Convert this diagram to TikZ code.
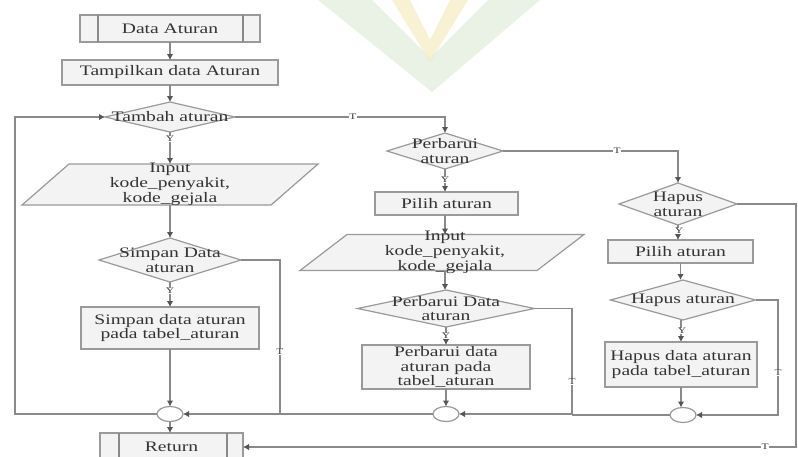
\documentclass[tikz,border=0pt]{standalone}
\usepackage{fontspec}
\setmainfont{Liberation Serif}[FakeStretch=1.35]
\usetikzlibrary{arrows.meta,shapes.geometric}
\definecolor{linec}{HTML}{8A8A8A}
\definecolor{tipc}{HTML}{555555}
\definecolor{boxc}{HTML}{9A9A9A}
\definecolor{boxf}{HTML}{F3F3F3}
\definecolor{textc}{HTML}{333333}
\definecolor{wmgreen}{HTML}{D8E9CF}
\definecolor{wmyellow}{HTML}{F4E8B8}
\newcommand{\txt}{\fontsize{14.5}{14.8}\selectfont}
\tikzset{
  line/.style={draw=linec, line width=1.3pt},
  arr/.style={line, -{Latex[length=6pt,width=6.5pt,color=tipc]}},
  box/.style={rectangle, draw=boxc, fill=boxf, line width=1.2pt, inner sep=0pt, outer sep=0pt,
    font=\txt, align=center, text=textc},
  dia/.style={diamond, draw=boxc, fill=boxf, line width=1.2pt, inner sep=0pt, outer sep=0pt},
  diatext/.style={font=\txt, align=center, text=textc, inner sep=0pt},
  frame/.style={rectangle, inner sep=0pt, outer sep=0pt, font=\txt, align=center, text=textc},
  para/.style={draw=boxc, fill=boxf, line width=1.2pt},
  joint/.style={ellipse, draw=boxc, fill=white, line width=1.2pt, minimum width=26pt, minimum height=15pt, inner sep=0pt, outer sep=0pt},
  lab/.style={font=\fontsize{8.5}{8.5}\selectfont, text=textc, fill=white, inner sep=0.6pt},
}
\begin{document}
\begin{tikzpicture}[x=1pt,y=-1pt]
\useasboundingbox (0,0) rectangle (798,456);
\fill[white] (0,0) rectangle (798,456);

% faint emblem behind the top of the chart
\fill[wmgreen, opacity=0.55] (318,0) -- (372,0) -- (430,58) -- (488,0) -- (540,0) -- (432,92) -- cycle;
\fill[wmyellow, opacity=0.6] (392,0) -- (410,0) -- (430,40) -- (450,0) -- (468,0) -- (430,62) -- cycle;

% ---------- column 1 : Tambah ----------
\node[box, minimum width=180pt, minimum height=27pt] (da) at (170,28.5) {Data Aturan};
\draw[line] ([xshift=18pt]da.north west) -- ([xshift=18pt]da.south west)
            ([xshift=-17pt]da.north east) -- ([xshift=-17pt]da.south east);
\node[box, minimum width=216pt, minimum height=25pt] (tampil) at (170,72.5) {Tampilkan data Aturan};
\node[dia, minimum width=130pt, minimum height=30pt] (tambah) at (170,117) {};
\node[diatext] at (tambah) {Tambah aturan};

\node[frame, minimum width=296pt, minimum height=41pt] (in1) at (170,184.5) {};
\draw[para] ([xshift=47pt]in1.north west) -- (in1.north east) -- ([xshift=-47pt]in1.south east) -- (in1.south west) -- cycle;
\node[frame] at (in1) {Input\\kode\_penyakit,\\kode\_gejala};

\node[dia, minimum width=142pt, minimum height=44pt] (simpan) at (170,260) {};
\node[diatext] at (simpan) {Simpan Data\\aturan};
\node[box, minimum width=178pt, minimum height=42pt] (sbox) at (170,328) {Simpan data aturan\\pada tabel\_aturan};
\node[joint] (c1) at (170,414) {};
\node[box, minimum width=143pt, minimum height=28pt] (ret) at (171.5,447) {Return};
\draw[line] ([xshift=19pt]ret.north west) -- ([xshift=19pt]ret.south west)
            ([xshift=-16pt]ret.north east) -- ([xshift=-16pt]ret.south east);

% ---------- column 2 : Perbarui ----------
\node[dia, minimum width=116pt, minimum height=36pt] (perb) at (445,151) {};
\node[diatext] at (perb) {Perbarui\\aturan};
\node[box, minimum width=143pt, minimum height=23pt] (pilih1) at (446.5,203.5) {Pilih aturan};
\node[frame, minimum width=284pt, minimum height=36pt] (in2) at (442,252.5) {};
\draw[para] ([xshift=47pt]in2.north west) -- (in2.north east) -- ([xshift=-47pt]in2.south east) -- (in2.south west) -- cycle;
\node[frame] at ([xshift=3pt]in2.center) {Input\\kode\_penyakit,\\kode\_gejala};
\node[dia, minimum width=177pt, minimum height=37pt] (pdata) at (446,308.5) {};
\node[diatext] at (pdata) {Perbarui Data\\aturan};
\node[box, minimum width=168pt, minimum height=44pt] (pbox) at (446,367) {Perbarui data\\aturan pada\\tabel\_aturan};
\node[joint] (c2) at (446,414) {};

% ---------- column 3 : Hapus ----------
\node[dia, minimum width=118pt, minimum height=42pt] (hapus) at (678,204) {};
\node[diatext] at (hapus) {Hapus\\aturan};
\node[box, minimum width=145pt, minimum height=23pt] (pilih2) at (680.5,251.5) {Pilih aturan};
\node[dia, minimum width=145pt, minimum height=40pt] (hdia) at (683,300) {};
\node[diatext] at (hdia) {Hapus aturan};
\node[box, minimum width=152pt, minimum height=45pt] (hbox) at (681,364.5) {Hapus data aturan\\pada tabel\_aturan};
\node[joint] (c3) at (683,415) {};

% junction points of the return paths
\coordinate (j1) at (280,414);
\coordinate (j2) at (572,414);
\coordinate (j3) at (778,415);
\coordinate (j4) at (796,447);
\coordinate (lp) at (15,414);

% ---------- connectors, column 1 ----------
\draw[arr] (da.south) -- (da.south |- tampil.north);
\draw[arr] (tampil.south) -- (tampil.south |- tambah.north);
\draw[arr] (tambah.south) -- (tambah.south |- in1.north);
\draw[arr] (in1.south) -- (in1.south |- simpan.north);
\draw[arr] (simpan.south) -- (simpan.south |- sbox.north);
\draw[arr] (sbox.south) -- (sbox.south |- c1.north);
\draw[arr] (simpan.east) -| (j1) -- (c1.east);
\draw[arr] (c1.south) -- (c1.south |- ret.north);
\draw[arr] (c1.west) -- (lp) |- (tambah.west);

% ---------- connectors, column 2 ----------
\draw[arr] (tambah.east) -| (perb.north);
\draw[arr] (perb.south) -- (perb.south |- pilih1.north);
\draw[arr] (pilih1.south -| perb.south) -- (perb.south |- in2.north);
\draw[arr] (in2.south -| perb.south) -- (perb.south |- pdata.north);
\draw[arr] (pdata.south) -- (pdata.south |- pbox.north);
\draw[arr] (pbox.south) -- (pbox.south |- c2.north);
\draw[arr] (pdata.east) -| (j2) -- (c2.east);
\draw[line] (c2.west) -- (j1);

% ---------- connectors, column 3 ----------
\draw[arr] (perb.east) -| (hapus.north);
\draw[arr] (hapus.south) -- (hapus.south |- pilih2.north);
\draw[arr] (pilih2.south) -- (pilih2.south |- hdia.north);
\draw[arr] (hdia.south -| hbox.north) -- (hbox.north);
\draw[arr] (hbox.south) -- (hbox.south |- c3.north);
\draw[arr] (hdia.east) -| (j3) -- (c3.east);
\draw[line] (c3.west) -- (j2 |- c3.west);
\draw[arr] (hapus.east) -| (j4) -- (ret.east |- j4);

% ---------- branch labels ----------
\node[lab] (y1) at (170,139) {Y};
\node[lab] (y2) at (170,291) {Y};
\node[lab] (y3) at (445,180) {Y};
\node[lab] (y4) at (446,336) {Y};
\node[lab] (y5) at (679,231) {Y};
\node[lab] (y6) at (682,331) {Y};
\node[lab] (t1) at (353,117) {T};
\node[lab] (t2) at (617,151) {T};
\node[lab] (t3) at (280,352) {T};
\node[lab] (t4) at (572,382) {T};
\node[lab] (t5) at (778,373) {T};
\node[lab] (t6) at (765,447) {T};
\end{tikzpicture}
\end{document}
